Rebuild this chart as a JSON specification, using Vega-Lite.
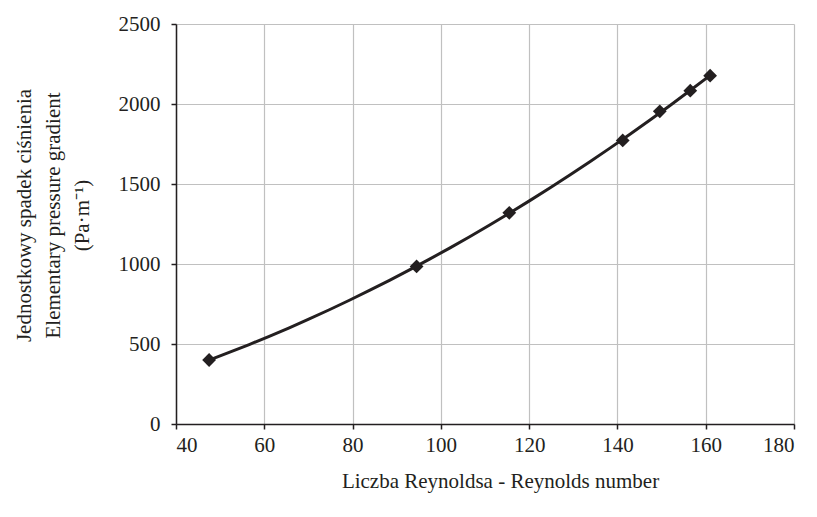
{
  "$schema": "https://vega.github.io/schema/vega-lite/v6.json",
  "width": 618,
  "height": 400,
  "autosize": "none",
  "padding": {"left": 176, "top": 24, "right": 23, "bottom": 93},
  "background": "white",
  "config": {
    "view": {"stroke": null},
    "font": "Liberation Serif",
    "axis": {
      "labelFont": "Liberation Serif",
      "titleFont": "Liberation Serif",
      "labelFontSize": 21,
      "titleFontSize": 21,
      "titleFontWeight": "normal",
      "labelColor": "#231f20",
      "titleColor": "#231f20",
      "gridColor": "#c0c0c0",
      "gridWidth": 1.2,
      "domainColor": "#231f20",
      "domainWidth": 1.5,
      "tickColor": "#231f20",
      "tickWidth": 1.5,
      "tickSize": 5
    }
  },
  "data": {
    "values": [
      {"re": 47.5, "dp": 400},
      {"re": 94.5, "dp": 985},
      {"re": 115.5, "dp": 1320},
      {"re": 141.2, "dp": 1772},
      {"re": 149.6, "dp": 1954},
      {"re": 156.5, "dp": 2083},
      {"re": 161, "dp": 2177}
    ]
  },
  "layer": [
    {
      "mark": {"type": "point", "shape": "diamond", "filled": true, "size": 190, "color": "#231f20", "opacity": 1},
      "encoding": {
        "x": {
          "field": "re", "type": "quantitative",
          "scale": {"domain": [40, 180], "nice": false},
          "axis": {"values": [40, 60, 80, 100, 120, 140, 160, 180], "format": "d", "title": "Liczba Reynoldsa - Reynolds number", "labelPadding": 5, "titleX": 324, "titleY": 57, "titleBaseline": "middle", "titleAlign": "center"}
        },
        "y": {
          "field": "dp", "type": "quantitative",
          "scale": {"domain": [0, 2500], "nice": false},
          "axis": {"values": [0, 500, 1000, 1500, 2000, 2500], "format": "d", "title": ["Jednostkowy spadek ciśnienia", "Elementary pressure gradient", "(Pa·m⁻¹)"], "titleLineHeight": 29, "labelPadding": 11, "titleX": -163, "titleY": 191, "titleBaseline": "top", "titleAlign": "center", "titleAngle": 270}
        }
      }
    },
    {
      "transform": [{"regression": "dp", "on": "re", "method": "poly", "order": 2}],
      "mark": {"type": "line", "color": "#231f20", "strokeWidth": 3},
      "encoding": {
        "x": {"field": "re", "type": "quantitative"},
        "y": {"field": "dp", "type": "quantitative"}
      }
    }
  ]
}
